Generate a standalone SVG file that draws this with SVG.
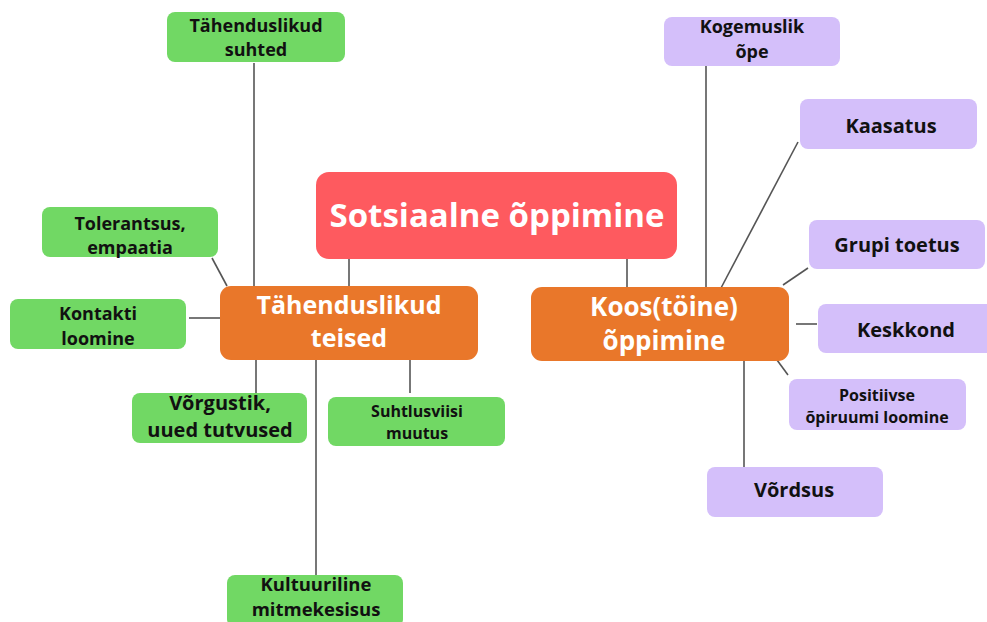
<svg xmlns="http://www.w3.org/2000/svg" width="987" height="622" viewBox="0 0 987 622">
<style>
.g{fill:#71D864}
.p{fill:#D4BFFA}
.o{fill:#E9772A}
.r{fill:#FE5A5F}
text{font-family:"Open Sans","Noto Sans","Liberation Sans",sans-serif;font-weight:700;text-anchor:middle}
.d{fill:#111}
.w{fill:#fff}
.c line{stroke:#555;stroke-width:1.6}
</style>
<rect width="987" height="622" fill="#fff"/>
<g class="c" id="connectors">
<line x1="349" y1="258" x2="349" y2="287"/>
<line x1="627" y1="258" x2="627" y2="288"/>
<line x1="254" y1="63" x2="254" y2="287"/>
<line x1="212" y1="258" x2="227" y2="286"/>
<line x1="189" y1="318" x2="221" y2="318"/>
<line x1="256" y1="360" x2="256" y2="393"/>
<line x1="316" y1="360" x2="316" y2="576"/>
<line x1="410" y1="360" x2="410" y2="393"/>
<line x1="706" y1="66" x2="706" y2="288"/>
<line x1="798" y1="142" x2="721" y2="288"/>
<line x1="808" y1="268" x2="783" y2="285"/>
<line x1="796" y1="324" x2="817" y2="324"/>
<line x1="777" y1="360" x2="788" y2="375"/>
<line x1="744" y1="360" x2="744" y2="467"/>
</g>
<g id="root">
<rect class="r" x="316" y="172" width="361" height="87" rx="13"/>
<text class="w" x="497" y="227" font-size="33">Sotsiaalne õppimine</text>
</g>
<g id="tahenduslikud-teised">
<rect class="o" x="220" y="286" width="258" height="74" rx="11"/>
<text class="w" x="349" y="314" font-size="25">Tähenduslikud</text>
<text class="w" x="349" y="347" font-size="25">teised</text>
</g>
<g id="koos">
<rect class="o" x="531" y="287" width="258" height="74" rx="11"/>
<text class="w" x="664" y="316" font-size="26">Koos(töine)</text>
<text class="w" x="664" y="350" font-size="26">õppimine</text>
</g>
<g id="tahenduslikud-suhted">
<rect class="g" x="167" y="12" width="178" height="50" rx="8"/>
<text class="d" x="256" y="31.5" font-size="18">Tähenduslikud</text>
<text class="d" x="256" y="55.5" font-size="18">suhted</text>
</g>
<g id="tolerantsus">
<rect class="g" x="42" y="207" width="176" height="50" rx="8"/>
<text class="d" x="130" y="229.5" font-size="18">Tolerantsus,</text>
<text class="d" x="130" y="253.5" font-size="18">empaatia</text>
</g>
<g id="kontakti">
<rect class="g" x="10" y="299" width="176" height="50" rx="8"/>
<text class="d" x="98" y="319.5" font-size="18">Kontakti</text>
<text class="d" x="98" y="344.5" font-size="18">loomine</text>
</g>
<g id="vorgustik">
<rect class="g" x="132" y="393" width="175" height="50" rx="8"/>
<text class="d" x="220" y="410" font-size="20">Võrgustik,</text>
<text class="d" x="220" y="437" font-size="20">uued tutvused</text>
</g>
<g id="suhtlusviisi">
<rect class="g" x="328" y="397" width="177" height="49" rx="8"/>
<text class="d" x="417" y="417" font-size="16">Suhtlusviisi</text>
<text class="d" x="417" y="439" font-size="16">muutus</text>
</g>
<g id="kultuuriline">
<rect class="g" x="227" y="575" width="176" height="52" rx="8"/>
<text class="d" x="316" y="591" font-size="18.5">Kultuuriline</text>
<text class="d" x="316" y="616" font-size="18.5">mitmekesisus</text>
</g>
<g id="kogemuslik">
<rect class="p" x="664" y="17" width="176" height="49" rx="8"/>
<text class="d" x="752" y="32.5" font-size="18">Kogemuslik</text>
<text class="d" x="752" y="57.5" font-size="18">õpe</text>
</g>
<g id="kaasatus">
<rect class="p" x="800" y="99" width="177" height="50" rx="8"/>
<text class="d" x="891" y="133" font-size="20">Kaasatus</text>
</g>
<g id="grupi">
<rect class="p" x="809" y="220" width="176" height="49" rx="8"/>
<text class="d" x="897" y="252" font-size="20">Grupi toetus</text>
</g>
<g id="keskkond">
<rect class="p" x="818" y="304" width="180" height="49" rx="8"/>
<text class="d" x="906" y="337" font-size="20">Keskkond</text>
</g>
<g id="positiivse">
<rect class="p" x="789" y="379" width="177" height="51" rx="8"/>
<text class="d" x="877" y="401" font-size="16">Positiivse</text>
<text class="d" x="877" y="423" font-size="16">õpiruumi loomine</text>
</g>
<g id="vordsus">
<rect class="p" x="707" y="467" width="176" height="50" rx="8"/>
<text class="d" x="794" y="497" font-size="20">Võrdsus</text>
</g>
</svg>
